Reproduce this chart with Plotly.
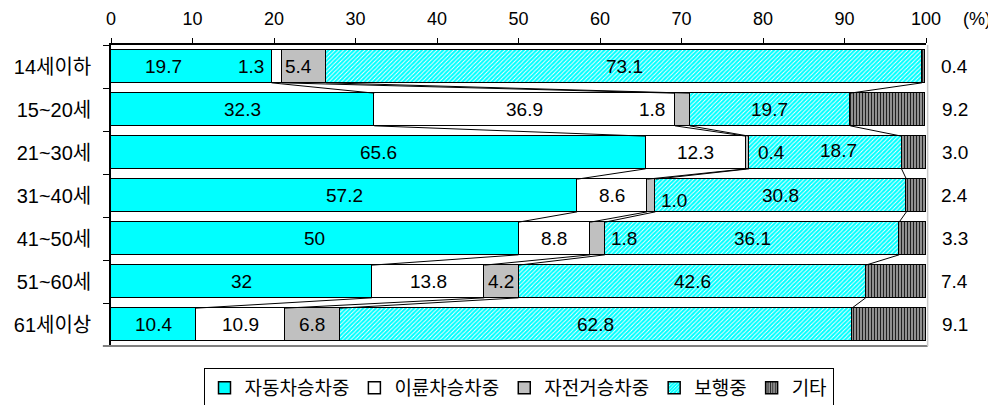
import plotly.graph_objects as go

# ---------------- data ----------------
categories = ["14세이하", "15~20세", "21~30세", "31~40세", "41~50세", "51~60세", "61세이상"]
series_names = ["자동차승차중", "이륜차승차중", "자전거승차중", "보행중", "기타"]
car = [19.7, 32.3, 65.6, 57.2, 50, 32, 10.4]
motorcycle = [1.3, 36.9, 12.3, 8.6, 8.8, 13.8, 10.9]
bicycle = [5.4, 1.8, 0.4, 1.0, 1.8, 4.2, 6.8]
walking = [73.1, 19.7, 18.7, 30.8, 36.1, 42.6, 62.8]
other = [0.4, 9.2, 3.0, 2.4, 3.3, 7.4, 9.1]
x_ticks = [0, 10, 20, 30, 40, 50, 60, 70, 80, 90, 100]

series_values = [car, motorcycle, bicycle, walking, other]

# ---------------- styles ----------------
FONT = "Liberation Sans, Arial, Noto Sans CJK KR, sans-serif"
BAR_W = 0.76
styles = [
    dict(color="#00FFFF"),
    dict(color="#FFFFFF"),
    dict(color="#C0C0C0"),
    dict(color="#00FFFF", pattern=dict(shape="/", fgcolor="#FFFFFF", bgcolor="#00FFFF",
                                       fillmode="replace", size=3, solidity=0.3)),
    dict(color="#999999", pattern=dict(shape="|", fgcolor="#202020", bgcolor="#A8A8A8",
                                       fillmode="replace", size=3, solidity=0.45)),
]
# manual label placements (row, series) -> x position / y pixel shift
label_x_override = {(0, 0): 6.5, (0, 1): 17.2, (0, 2): 23.0, (1, 2): 66.4,
                    (2, 2): 81.1, (2, 3): 89.3, (3, 2): 69.1, (4, 2): 62.9}
label_yshift = {(3, 2): -5, (2, 3): 2}
LABEL_SIZE = 19

fig = go.Figure()
ypos = list(range(len(categories)))
for name, vals, st in zip(series_names, series_values, styles):
    marker = dict(color=st["color"], line=dict(color="black", width=1.5))
    if "pattern" in st:
        marker["pattern"] = st["pattern"]
    fig.add_trace(go.Bar(y=ypos, x=vals, name=name, orientation="h", width=BAR_W,
                         marker=marker, hoverinfo="skip"))

# cumulative sums
n_rows = len(categories)
cums = []
for i in range(n_rows):
    c = [0.0]
    for s in series_values:
        c.append(c[-1] + s[i])
    cums.append(c)

annotations = []
for i in range(n_rows):
    for k, s in enumerate(series_values):
        txt = str(s[i])
        if k == len(series_values) - 1:
            annotations.append(dict(x=1.035, y=i, xref="paper", yref="y", xanchor="center",
                                    text=txt, showarrow=False,
                                    font=dict(size=LABEL_SIZE, color="black", family=FONT)))
            continue
        xc = label_x_override.get((i, k), (cums[i][k] + cums[i][k + 1]) / 2)
        annotations.append(dict(x=xc, y=i, xref="x", yref="y", xanchor="center", text=txt,
                                showarrow=False, yshift=label_yshift.get((i, k), 0),
                                font=dict(size=LABEL_SIZE, color="black", family=FONT)))

annotations.append(dict(x=1.0626, y=1, xref="paper", yref="paper", xanchor="center",
                        text="(%)", showarrow=False, yanchor="middle", yshift=26,
                        font=dict(size=18, color="black", family=FONT)))

shapes = []
# series lines connecting segment boundaries
for i in range(n_rows - 1):
    for k in range(1, len(series_values)):
        shapes.append(dict(type="line", xref="x", yref="y",
                           x0=cums[i][k], y0=i + BAR_W / 2,
                           x1=cums[i + 1][k], y1=i + 1 - BAR_W / 2,
                           line=dict(color="black", width=1)))
# plot-area border (bottom / right)
shapes.append(dict(type="line", xref="paper", yref="paper", x0=-0.01, x1=1.002, y0=0, y1=0,
                   line=dict(color="#808080", width=2)))
shapes.append(dict(type="line", xref="paper", yref="paper", x0=1.002, x1=1.002, y0=0, y1=1,
                   line=dict(color="#C8C8C8", width=1.5)))

# page body adds an 8px offset, so the figure is sized/margined to compensate
fig.update_layout(
    width=988, height=397,
    margin=dict(l=103, r=70, t=37, b=59, autoexpand=False),
    barmode="stack",
    bargap=0,
    plot_bgcolor="white", paper_bgcolor="white",
    font=dict(family=FONT, size=18, color="black"),
    showlegend=True,
    legend=dict(orientation="h", x=0.5, xanchor="center", y=-0.073, yanchor="top",
                bordercolor="black", borderwidth=1, bgcolor="white",
                font=dict(size=19, family=FONT), itemwidth=30, traceorder="normal"),
    annotations=annotations,
    shapes=shapes,
)
fig.update_xaxes(side="top", range=[0, 100], tickvals=x_ticks, ticks="outside", ticklen=5,
                 tickcolor="black", showline=True, linecolor="black", linewidth=1.5,
                 showgrid=False, zeroline=False, tickfont=dict(size=18), ticklabelstandoff=6,
                 automargin=False)
fig.update_yaxes(range=[n_rows - 0.5, -0.5], tickvals=ypos, ticktext=categories, ticks="",
                 showline=True, linecolor="black", linewidth=1.5, showgrid=False, zeroline=False,
                 tickfont=dict(size=20), ticklabelstandoff=14, automargin=False,
                 minor=dict(tickvals=[i - 0.5 for i in range(n_rows + 1)], ticks="outside",
                            ticklen=6, tickcolor="black", tickwidth=1, showgrid=False))

fig.write_html("out.html")
